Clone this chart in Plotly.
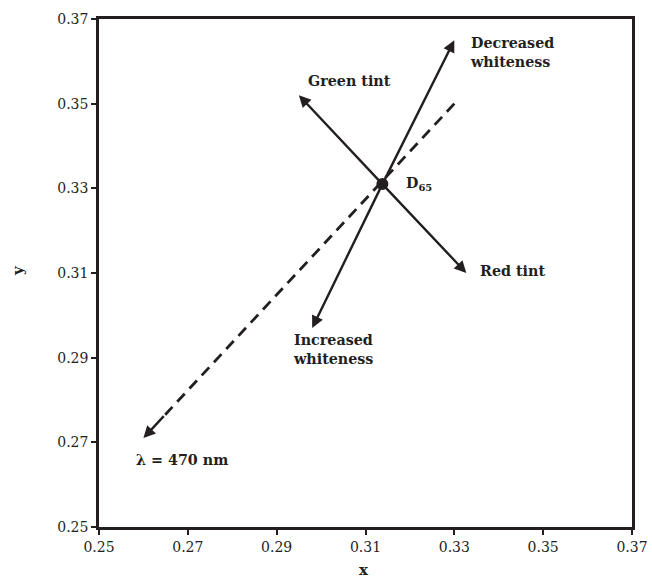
import plotly.graph_objects as go

# Data
d65_x = [0.3138]
d65_y = [0.3310]
arrow_names = ["Decreased whiteness", "Increased whiteness", "Green tint", "Red tint"]
arrow_tip_x = [0.3300, 0.2980, 0.2950, 0.3327]
arrow_tip_y = [0.3650, 0.2970, 0.3520, 0.3100]
locus_x = [0.3300, 0.2600]
locus_y = [0.3500, 0.2710]
x_ticks = [0.25, 0.27, 0.29, 0.31, 0.33, 0.35, 0.37]
y_ticks = [0.25, 0.27, 0.29, 0.31, 0.33, 0.35, 0.37]

INK = "#231f20"
SERIF = "DejaVu Serif"

fig = go.Figure()

# dashed line towards 470 nm (stop short of the tip; arrow head added below)
frac = 0.93
dash_end_x = locus_x[0] + (locus_x[1] - locus_x[0]) * frac
dash_end_y = locus_y[0] + (locus_y[1] - locus_y[0]) * frac
fig.add_trace(go.Scatter(
    x=[locus_x[0], dash_end_x], y=[locus_y[0], dash_end_y],
    mode="lines", line=dict(color=INK, width=2.8, dash="11px,7px"),
    hoverinfo="skip", showlegend=False))

annotations = []
for tx, ty in zip(arrow_tip_x, arrow_tip_y):
    annotations.append(dict(
        x=tx, y=ty, ax=d65_x[0], ay=d65_y[0], xref="x", yref="y",
        axref="x", ayref="y", text="", showarrow=True,
        arrowhead=2, arrowsize=1.0, arrowwidth=2.4, arrowcolor=INK,
        standoff=0, startstandoff=0))

# arrow head of dashed line
annotations.append(dict(
    x=locus_x[1], y=locus_y[1], ax=dash_end_x, ay=dash_end_y,
    xref="x", yref="y", axref="x", ayref="y", text="", showarrow=True,
    arrowhead=2, arrowsize=1.0, arrowwidth=2.4, arrowcolor=INK))

fig.add_trace(go.Scatter(
    x=d65_x, y=d65_y, mode="markers",
    marker=dict(size=12, color=INK), hoverinfo="skip", showlegend=False))

label_font = dict(family=SERIF, size=14.3, color=INK)
labels = [
    ("<b>Decreased<br>whiteness</b>", 0.3330, 0.3620),
    ("<b>Green tint</b>", 0.2967, 0.3554),
    ("<b>D<sub>65</sub></b>", 0.3187, 0.3310),
    ("<b>Red tint</b>", 0.3354, 0.3105),
    ("<b>Increased<br>whiteness</b>", 0.2932, 0.2920),
    ("<b>λ = 470 nm</b>", 0.2579, 0.2658),
]
for txt, lx, ly in labels:
    annotations.append(dict(
        x=lx, y=ly, xref="x", yref="y", text=txt, showarrow=False,
        xanchor="left", yanchor="middle", align="left", font=label_font))

title_font = dict(family=SERIF, size=15, color=INK)
annotations.append(dict(
    x=0.497, y=0, xref="paper", yref="paper", yshift=-43,
    text="<b>x</b>", showarrow=False, xanchor="center", yanchor="middle",
    font=title_font))
annotations.append(dict(
    x=0, y=0.504, xref="paper", yref="paper", xshift=-81,
    text="<b>y</b>", showarrow=False, xanchor="center", yanchor="middle",
    textangle=-90, font=title_font))

axis_common = dict(
    showgrid=False, zeroline=False, showline=True, linecolor=INK,
    linewidth=2.5, mirror=True, ticks="outside", ticklen=5,
    tickwidth=1.5, tickcolor=INK, automargin=False,
    tickfont=dict(family=SERIF, size=14, color=INK))

fig.update_layout(
    width=652, height=579,
    margin=dict(l=99, r=20, t=19, b=52),
    plot_bgcolor="white", paper_bgcolor="white",
    xaxis=dict(range=[0.25, 0.37], tickvals=x_ticks,
               ticktext=[f"{v:.2f}" for v in x_ticks], **axis_common),
    yaxis=dict(range=[0.25, 0.37], tickvals=y_ticks,
               ticktext=[f"{v:.2f}" for v in y_ticks], **axis_common),
    annotations=annotations,
)

fig.write_html("out.html")
